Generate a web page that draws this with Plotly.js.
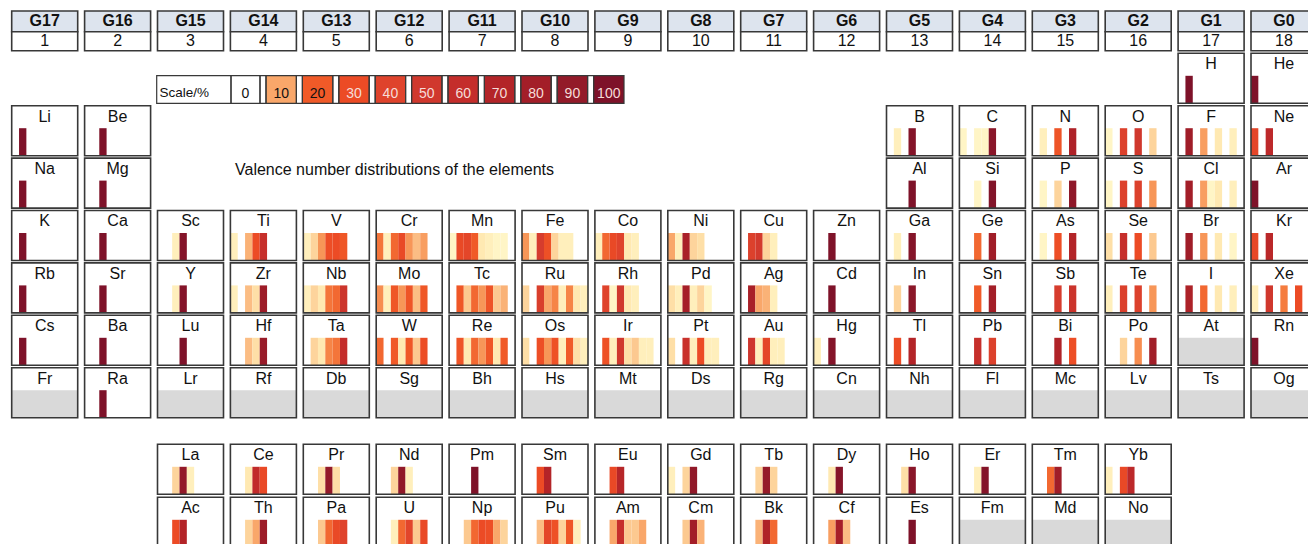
<!DOCTYPE html>
<html><head><meta charset="utf-8">
<script src="https://cdn.plot.ly/plotly-3.0.1.min.js"></script>
<style>html,body{margin:0;padding:0;background:#fff;} #chart{width:1308px;height:544px;}</style>
</head><body><div id="chart"></div>
<script>
// ---------- data ----------
const groupLabels = ["G17","G16","G15","G14","G13","G12","G11","G10","G9","G8","G7","G6","G5","G4","G3","G2","G1","G0"];
const groupNumbers = ["1","2","3","4","5","6","7","8","9","10","11","12","13","14","15","16","17","18"];
const tableRows = [
  "- - - - - - - - - - - - - - - - H He",
  "Li Be - - - - - - - - - - B C N O F Ne",
  "Na Mg - - - - - - - - - - Al Si P S Cl Ar",
  "K Ca Sc Ti V Cr Mn Fe Co Ni Cu Zn Ga Ge As Se Br Kr",
  "Rb Sr Y Zr Nb Mo Tc Ru Rh Pd Ag Cd In Sn Sb Te I Xe",
  "Cs Ba Lu Hf Ta W Re Os Ir Pt Au Hg Tl Pb Bi Po At Rn",
  "Fr Ra Lr Rf Db Sg Bh Hs Mt Ds Rg Cn Nh Fl Mc Lv Ts Og",
  "- - La Ce Pr Nd Pm Sm Eu Gd Tb Dy Ho Er Tm Yb - -",
  "- - Ac Th Pa U Np Pu Am Cm Bk Cf Es Fm Md No - -"
];
const valenceNumbers = [0,1,2,3,4,5,6,7,8];
// share (%) of each valence number 0..8; elements not listed have no data
const valenceShares = [
  ["H",[0,100]], ["He",[100]],
  ["Li",[0,100]], ["Be",[0,0,100]], ["B",[0,3,0,97]], ["C",[2,0,2,2,95]],
  ["N",[0,3,0,24,0,73]], ["O",[2,0,42,0,50,0,6]], ["F",[0,82,0,11,0,4,0,3]], ["Ne",[36,0,64]],
  ["Na",[0,100]], ["Mg",[0,0,100]], ["Al",[0,0,0,100]], ["Si",[0,0,2,0,98]],
  ["P",[0,2,0,6,0,92]], ["S",[2,0,42,0,42,0,12]], ["Cl",[0,80,0,11,2,4,0,3]], ["Ar",[100]],
  ["K",[0,100]], ["Ca",[0,0,100]], ["Sc",[0,0,3,97]], ["Ti",[3,0,9,30,58]],
  ["V",[3,6,12,28,30,22]], ["Cr",[16,3,18,32,12,8,11]], ["Mn",[2,32,36,20,4,3,2,2]],
  ["Fe",[12,3,46,27,6,3,3]], ["Co",[3,18,32,40,4,3]], ["Ni",[10,3,76,6,5]],
  ["Cu",[0,42,48,6,3]], ["Zn",[0,0,100]], ["Ga",[0,3,0,97]], ["Ge",[0,0,18,0,82]],
  ["As",[0,2,0,28,0,70]], ["Se",[5,0,58,0,30,0,7]], ["Br",[0,82,0,12,0,4,0,2]], ["Kr",[34,0,66]],
  ["Rb",[0,100]], ["Sr",[0,0,100]], ["Y",[0,0,3,97]], ["Zr",[3,0,8,5,84]],
  ["Nb",[3,6,4,16,18,53]], ["Mo",[13,3,22,12,24,8,22]], ["Tc",[0,22,7,18,12,24,7,9]],
  ["Ru",[6,0,44,10,14,3,14,4,3]], ["Rh",[0,40,2,50,4,3]], ["Pd",[5,3,78,3,6,2]],
  ["Ag",[0,76,10,9,3]], ["Cd",[0,0,100]], ["In",[0,6,0,94]], ["Sn",[0,0,20,0,80]],
  ["Sb",[0,0,0,46,0,54]], ["Te",[3,0,43,0,42,0,12]], ["I",[0,74,0,18,0,4,0,3]], ["Xe",[3,0,50,0,15,0,30]],
  ["Cs",[0,100]], ["Ba",[0,0,100]], ["Lu",[0,0,0,100]], ["Hf",[0,0,8,5,87]],
  ["Ta",[0,6,4,14,16,60]], ["W",[18,0,20,4,22,7,29]], ["Re",[0,24,4,18,12,22,4,20]],
  ["Os",[5,0,28,12,26,3,20,5,3]], ["Ir",[0,26,3,50,5,7,3,3]], ["Pt",[5,0,56,3,30,3,3]],
  ["Au",[0,52,3,36,3,3]], ["Hg",[3,0,97]], ["Tl",[0,30,0,70]], ["Pb",[0,0,58,0,42]],
  ["Bi",[0,0,0,72,0,28]], ["Po",[0,0,6,0,13,0,81]], ["Rn",[100]],
  ["Ra",[0,0,100]],
  ["La",[0,0,6,90,3]], ["Ce",[0,0,4,62,32]], ["Pr",[0,0,5,90,5]], ["Nd",[0,0,6,91,3]],
  ["Pm",[0,0,0,100]], ["Sm",[0,0,30,70]], ["Eu",[0,0,32,68]], ["Gd",[3,0,6,91]],
  ["Tb",[0,0,6,88,6]], ["Dy",[0,0,4,96]], ["Ho",[0,0,5,95]], ["Er",[0,0,3,97]],
  ["Tm",[0,0,18,82]], ["Yb",[3,0,32,65]],
  ["Ac",[0,0,30,70]], ["Th",[0,0,6,10,84]], ["Pa",[0,0,7,18,32,40]], ["U",[0,0,3,18,38,7,32]],
  ["Np",[0,0,7,18,30,28,10,6]], ["Pu",[0,0,8,36,26,6,22,3]], ["Am",[0,0,10,58,7,7,10]],
  ["Cm",[0,0,7,80,9]], ["Bk",[0,0,9,72,18]], ["Cf",[0,0,11,78,8]], ["Es",[0,0,0,100]]
];
const legendValues = [0,10,20,30,40,50,60,70,80,90,100];
const legendTitle = "Scale/%";
const chartTitle = "Valence number distributions of the elements";

// ---------- style ----------
const FONT = "Liberation Sans, Arial, Helvetica, sans-serif";
const colorStops = [
  [0.00,'#fffde4'],[0.02,'#fff5c6'],[0.04,'#ffe9b2'],[0.06,'#fdd49c'],[0.08,'#fbbd84'],
  [0.10,'#f9a76a'],[0.15,'#f57c3e'],[0.20,'#f05a28'],[0.30,'#ec4b25'],[0.40,'#df432c'],
  [0.50,'#d0382d'],[0.60,'#c42d2b'],[0.70,'#b32428'],[0.80,'#a31e28'],[0.90,'#931a29'],[1.00,'#7e1229']
];
const BORDER = '#383838';
const colLeft = c => 11.7 + c * 72.9;          // c: 0-based column
const rowTop = r => r < 7 ? 53.3 + r * 52.4 : 444.3 + (r - 7) * 53;
const boxW = 66, boxH = 50, barOff = 22.5, slotW = boxW / valenceNumbers.length;

const shareMap = new Map(valenceShares);
const shapes = [];
const barX = [], barBase = [], barH = [], barC = [];
const labX = [], labY = [], labT = [];

tableRows.forEach((line, r) => {
  line.split(' ').forEach((sym, c) => {
    if (sym === '-') return;
    const L = colLeft(c), T = rowTop(r);
    shapes.push({type:'rect', xref:'x', yref:'y', x0:L, x1:L+boxW, y0:T, y1:T+boxH,
      line:{color:BORDER, width:1.6}, fillcolor:'rgba(0,0,0,0)', layer:'above'});
    labX.push(L + boxW/2); labY.push(T + 11.8); labT.push(sym);
    const s = shareMap.get(sym);
    if (s) {
      s.forEach((v, k) => {
        if (v > 0) {
          barX.push(L + (valenceNumbers[k] + 0.5) * slotW);
          barBase.push(T + barOff); barH.push(boxH - barOff); barC.push(v);
        }
      });
    } else {
      shapes.push({type:'rect', xref:'x', yref:'y', x0:L, x1:L+boxW, y0:T+barOff, y1:T+boxH,
        line:{width:0}, fillcolor:'#d9d9d9', layer:'below'});
    }
  });
});

// header
const hX = [], hY = [], hT = [];
groupLabels.forEach((g, c) => {
  const L = colLeft(c);
  shapes.push({type:'rect', xref:'x', yref:'y', x0:L, x1:L+boxW, y0:11, y1:31.7,
    line:{color:BORDER, width:1.6}, fillcolor:'#dde4ee', layer:'below'});
  shapes.push({type:'rect', xref:'x', yref:'y', x0:L, x1:L+boxW, y0:31.7, y1:50.7,
    line:{color:BORDER, width:1.6}, fillcolor:'#ffffff', layer:'below'});
  hX.push(L + boxW/2); hY.push(22.3); hT.push('<b>' + g + '</b>');
  hX.push(L + boxW/2); hY.push(41.8); hT.push(groupNumbers[c]);
});

// legend
const lgTop = 75.7, lgBot = 103.3;
const lgX = [], lgBase = [], lgH = [], lgC = [], lgW = [];
const lgTX = [], lgTY = [], lgTT = [], lgTC = [], lgTS = [];
shapes.push({type:'rect', xref:'x', yref:'y', x0:156.7, x1:231, y0:lgTop, y1:lgBot,
  line:{color:BORDER, width:1.2}, fillcolor:'rgba(0,0,0,0)', layer:'above'});
lgTX.push(159.5); lgTY.push(94); lgTT.push(legendTitle); lgTC.push('#111'); lgTS.push(13.5);
legendValues.forEach((v, i) => {
  let x0;
  if (i === 0) { x0 = 231; }
  else {
    const g0 = 260 + (i-1) * 36.4;
    shapes.push({type:'rect', xref:'x', yref:'y', x0:g0, x1:g0+6, y0:lgTop, y1:lgBot,
      line:{color:BORDER, width:1.2}, fillcolor:'rgba(0,0,0,0)', layer:'above'});
    x0 = g0 + 6;
  }
  const w = i === 0 ? 29 : 30.4;
  shapes.push({type:'rect', xref:'x', yref:'y', x0:x0, x1:x0+w, y0:lgTop, y1:lgBot,
    line:{color:BORDER, width:1.2}, fillcolor:'rgba(0,0,0,0)', layer:'above'});
  if (v > 0) { lgX.push(x0 + w/2); lgBase.push(lgTop); lgH.push(lgBot - lgTop); lgC.push(v); lgW.push(w); }
  lgTX.push(x0 + w/2); lgTY.push(94); lgTT.push(String(v)); lgTC.push(v <= 20 ? '#111' : '#f6dcd8'); lgTS.push(14);
});

const traces = [
  {type:'bar', x:barX, y:barH, base:barBase, width:slotW, hoverinfo:'skip',
   marker:{color:barC, colorscale:colorStops, cmin:0, cmax:100, showscale:false, line:{width:0}}},
  {type:'bar', x:lgX, y:lgH, base:lgBase, width:lgW, hoverinfo:'skip',
   marker:{color:lgC, colorscale:colorStops, cmin:0, cmax:100, showscale:false, line:{width:0}}},
  {type:'scatter', mode:'text', x:labX, y:labY, text:labT, textposition:'middle center',
   textfont:{family:FONT, size:16, color:'#111'}, hoverinfo:'skip'},
  {type:'scatter', mode:'text', x:hX, y:hY, text:hT, textposition:'middle center',
   textfont:{family:FONT, size:16, color:'#111'}, hoverinfo:'skip'},
  {type:'scatter', mode:'text', x:lgTX, y:lgTY, text:lgTT,
   textposition: lgTT.map((t,i)=> i===0 ? 'middle right' : 'middle center'),
   textfont:{family:FONT, size:lgTS, color:lgTC}, hoverinfo:'skip'}
];

const layout = {
  width:1308, height:544, margin:{l:0,r:0,t:0,b:0,pad:0},
  paper_bgcolor:'#ffffff', plot_bgcolor:'#ffffff', showlegend:false, barmode:'overlay',
  xaxis:{range:[0,1308], visible:false, fixedrange:true},
  yaxis:{range:[544,0], visible:false, fixedrange:true},
  shapes:shapes,
  annotations:[{xref:'x', yref:'y', x:394.5, y:169.5, text:chartTitle, showarrow:false,
    xanchor:'center', yanchor:'middle', font:{family:FONT, size:16, color:'#111'}}]
};
Plotly.newPlot('chart', traces, layout, {staticPlot:true, displayModeBar:false});
</script></body></html>
